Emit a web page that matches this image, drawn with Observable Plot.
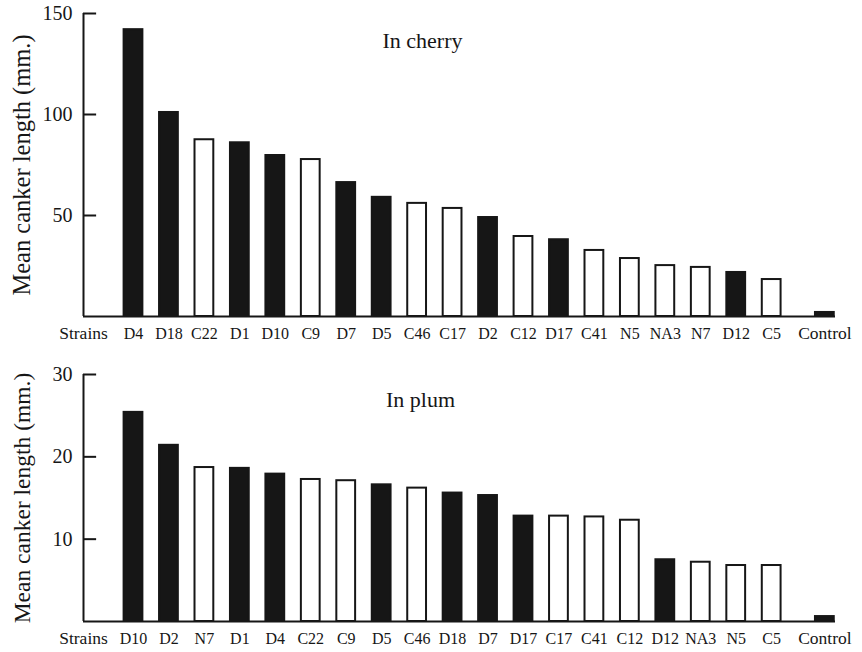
<!DOCTYPE html>
<html>
<head>
<meta charset="utf-8">
<script src="https://cdn.jsdelivr.net/npm/d3@7"></script>
<script src="https://cdn.jsdelivr.net/npm/@observablehq/plot@0.6"></script>
<style>
  body { margin: 0; background: #fff; }
  #chart svg { display: block; }
</style>
</head>
<body>
<div id="chart"></div>
<script>
// Mean canker length (mm.) per strain, sorted longest first, in each host
const cherryStrains = ["D4", "D18", "C22", "D1", "D10", "C9", "D7", "D5", "C46", "C17", "D2", "C12", "D17", "C41", "N5", "NA3", "N7", "D12", "C5"];
const cherryValues = [142, 101, 87.5, 86, 79.7, 77.7, 66.3, 59, 56, 53.5, 49, 39.6, 38, 32.7, 28.7, 25.2, 24.3, 21.8, 18.3];
const cherryControl = 2;
const cherryTicks = [50, 100, 150];

const plumStrains = ["D10", "D2", "N7", "D1", "D4", "C22", "C9", "D5", "C46", "D18", "D7", "D17", "C17", "C41", "C12", "D12", "NA3", "N5", "C5"];
const plumValues = [25.4, 21.4, 18.7, 18.6, 17.9, 17.25, 17.1, 16.6, 16.2, 15.6, 15.3, 12.8, 12.8, 12.7, 12.3, 7.5, 7.2, 6.8, 6.8];
const plumControl = 0.6;
const plumTicks = [10, 20, 30];

const ink = "#161616";
const serif = "'Liberation Serif', 'Times New Roman', serif";

function panel({title, strains, values, control, ticks, height, marginTop, marginBottom, titleDx, titleDy, labelSize}) {
  const n = strains.length;
  // D strains are drawn solid, the others hollow; the control sits a half slot further out
  const bars = strains.map((s, i) => ({label: s, pos: i, value: values[i], dark: s.startsWith("D"), caps: true}));
  bars.push({label: "Control", pos: n + 0.5, value: control, dark: true, caps: false});
  const xDomain = [-1.41, n + 0.8];
  const labels = [{label: "Strains", pos: xDomain[0], caps: false}, ...bars];
  const yMax = ticks[ticks.length - 1];
  const half = 0.265;      // half bar width, in strain slots
  const tickLen = 0.37;    // inward tick length, in strain slots

  const svg = Plot.plot({
    width: 862,
    height,
    marginLeft: 83,
    marginRight: 27,
    marginTop,
    marginBottom,
    style: {fontFamily: serif, color: ink, background: "white", overflow: "visible"},
    x: {domain: xDomain, axis: null},
    y: {domain: [0, yMax]},
    marks: [
      Plot.rectY(bars, {
        x1: d => d.pos - half,
        x2: d => d.pos + half,
        y1: 0,
        y2: "value",
        fill: d => d.dark ? ink : "white",
        stroke: ink,
        strokeWidth: 2
      }),
      Plot.ruleY([0], {stroke: ink, strokeWidth: 2}),
      Plot.ruleX([xDomain[0]], {y1: 0, y2: yMax, stroke: ink, strokeWidth: 2}),
      // ticks point inward from the axis line, labels sit outside it
      Plot.ruleY(ticks, {x1: xDomain[0], x2: xDomain[0] + tickLen, stroke: ink, strokeWidth: 2}),
      Plot.axisY(ticks, {
        tickSize: 0,
        tickPadding: 11,
        fill: ink,
        fontSize: 20,
        label: null
      }),
      Plot.text(labels, {
        filter: d => d.caps,
        x: "pos",
        text: "label",
        frameAnchor: "bottom",
        lineAnchor: "top",
        dy: 11,
        fontSize: 16,
        fill: ink,
        ariaLabel: "strain labels"
      }),
      Plot.text(labels, {
        filter: d => !d.caps,
        x: "pos",
        text: "label",
        frameAnchor: "bottom",
        lineAnchor: "top",
        dy: 10,
        fontSize: 17.5,
        fill: ink
      }),
      Plot.text([title], {
        frameAnchor: "top",
        lineAnchor: "top",
        dx: titleDx,
        dy: titleDy,
        fontSize: 22,
        fill: ink
      }),
      Plot.text(["Mean canker length (mm.)"], {
        frameAnchor: "left",
        rotate: -90,
        textAnchor: "middle",
        lineAnchor: "middle",
        dx: -61,
        fontSize: labelSize,
        fill: ink
      })
    ]
  });

  // strain codes are set with small-capital letters before the number
  d3.select(svg).selectAll('g[aria-label="strain labels"] text').each(function () {
    const m = this.textContent.match(/^([A-Z]+)(.*)$/);
    if (!m) return;
    const t = d3.select(this);
    t.text(null);
    t.append("tspan").attr("font-size", 12).text(m[1]);
    t.append("tspan").text(m[2]);
  });
  return svg;
}

const chart = document.getElementById("chart");
chart.append(panel({
  title: "In cherry",
  strains: cherryStrains,
  values: cherryValues,
  control: cherryControl,
  ticks: cherryTicks,
  height: 345,
  marginTop: 13,
  marginBottom: 29,
  titleDx: -37,
  titleDy: 19,
  labelSize: 24.5
}));
chart.append(panel({
  title: "In plum",
  strains: plumStrains,
  values: plumValues,
  control: plumControl,
  ticks: plumTicks,
  height: 307,
  marginTop: 29,
  marginBottom: 31,
  titleDx: -39,
  titleDy: 17,
  labelSize: 23.5
}));
</script>
</body>
</html>
